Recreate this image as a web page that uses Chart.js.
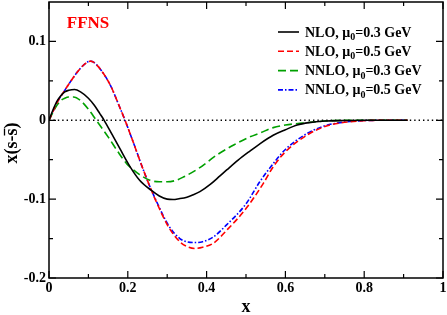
<!DOCTYPE html>
<html>
<head>
<meta charset="utf-8">
<script src="https://cdn.jsdelivr.net/npm/chart.js@4/dist/chart.umd.min.js"></script>
<style>
    html, body { margin: 0; padding: 0; background: #fff; }
</style>
</head>
<body>
<canvas id="chartStrange" width="447" height="315"></canvas>
<script>
// x(s - sbar) vs x, FFNS
const xNLO03 = [0, 0.01, 0.02, 0.03, 0.04, 0.05, 0.065, 0.08, 0.1, 0.115, 0.129, 0.14, 0.16, 0.18, 0.206, 0.23, 0.26, 0.28, 0.3, 0.315, 0.33, 0.35, 0.366, 0.383, 0.41, 0.434, 0.451, 0.48, 0.51, 0.536, 0.569, 0.6, 0.63, 0.66, 0.7, 0.75, 0.8, 0.85, 0.91];
const yNLO03 = [0, 0.013, 0.024, 0.031, 0.036, 0.038, 0.039, 0.036, 0.028, 0.019, 0.0085, 0, -0.018, -0.036, -0.059, -0.076, -0.089, -0.096, -0.1, -0.1005, -0.0995, -0.0975, -0.0945, -0.0905, -0.081, -0.0705, -0.063, -0.0505, -0.039, -0.0295, -0.019, -0.012, -0.006, -0.003, -0.001, -0.0003, 0, 0, 0];

const xNLO05 = [0, 0.01, 0.02, 0.04, 0.06, 0.08, 0.095, 0.105, 0.115, 0.13, 0.145, 0.16, 0.175, 0.193, 0.214, 0.235, 0.256, 0.273, 0.303, 0.332, 0.35, 0.37, 0.39, 0.417, 0.45, 0.5, 0.544, 0.569, 0.6, 0.654, 0.7, 0.739, 0.8, 0.85, 0.91];
const yNLO05 = [0, 0.011, 0.022, 0.038, 0.053, 0.066, 0.073, 0.075, 0.073, 0.065, 0.054, 0.04, 0.022, 0, -0.028, -0.057, -0.084, -0.104, -0.135, -0.154, -0.16, -0.1625, -0.161, -0.156, -0.14, -0.112, -0.08, -0.059, -0.04, -0.019, -0.008, -0.0034, -0.0005, 0, 0];

const xNNLO03 = [0, 0.01, 0.02, 0.03, 0.04, 0.05, 0.062, 0.08, 0.1, 0.12, 0.15, 0.175, 0.197, 0.21, 0.23, 0.256, 0.28, 0.3, 0.32, 0.341, 0.38, 0.426, 0.47, 0.51, 0.536, 0.569, 0.6, 0.654, 0.7, 0.75, 0.8, 0.91];
const yNNLO03 = [0, 0.01, 0.019, 0.025, 0.028, 0.0295, 0.0295, 0.025, 0.014, 0, -0.021, -0.04, -0.055, -0.061, -0.069, -0.076, -0.078, -0.078, -0.0765, -0.072, -0.061, -0.044, -0.031, -0.021, -0.016, -0.0093, -0.006, -0.003, -0.001, 0, 0, 0];

const xNNLO05 = [0, 0.01, 0.02, 0.04, 0.06, 0.08, 0.095, 0.105, 0.115, 0.13, 0.145, 0.16, 0.175, 0.193, 0.214, 0.235, 0.256, 0.273, 0.303, 0.332, 0.35, 0.37, 0.39, 0.417, 0.45, 0.5, 0.535, 0.569, 0.6, 0.654, 0.7, 0.739, 0.8, 0.85, 0.91];
const yNNLO05 = [0, 0.011, 0.022, 0.038, 0.053, 0.066, 0.073, 0.075, 0.073, 0.065, 0.054, 0.04, 0.022, 0, -0.028, -0.057, -0.084, -0.103, -0.133, -0.15, -0.154, -0.155, -0.154, -0.148, -0.133, -0.106, -0.078, -0.055, -0.037, -0.017, -0.007, -0.003, -0.0004, 0, 0];

const zeroLineX = [0, 1];
const zeroLineY = [0, 0];

const xMajor = [0, 0.2, 0.4, 0.6, 0.8, 1];
const xMinor = [0.1, 0.3, 0.5, 0.7, 0.9];
const yMajor = [-0.2, -0.1, 0, 0.1];
const yMinor = [-0.15, -0.05, 0.05];

const seriesLabels = ['NLO, μ|0|=0.3 GeV', 'NLO, μ|0|=0.5 GeV', 'NNLO, μ|0|=0.3 GeV', 'NNLO, μ|0|=0.5 GeV'];
const schemeLabel = 'FFNS';
const xTitle = 'x';
const yTitle = 'x(s-s)';

const SERIF = "'Liberation Serif', 'Times New Roman', serif";

function toPoints(xs, ys) {
    return xs.map((x, i) => ({ x: x, y: ys[i] }));
}

// frame, inward ticks, titles, legend
const decorPlugin = {
    id: 'decor',
    afterDatasetsDraw(chart) {
        const ctx = chart.ctx;
        const area = chart.chartArea;
        const sx = chart.scales.x;
        const sy = chart.scales.y;
        ctx.save();
        ctx.strokeStyle = '#000';
        ctx.lineWidth = 1.5;
        ctx.setLineDash([]);
        ctx.strokeRect(area.left, area.top, area.right - area.left, area.bottom - area.top);
        ctx.lineWidth = 1.2;
        ctx.beginPath();
        const xt = (vals, len) => {
            for (const v of vals) {
                const px = sx.getPixelForValue(v);
                ctx.moveTo(px, area.bottom); ctx.lineTo(px, area.bottom - len);
                ctx.moveTo(px, area.top); ctx.lineTo(px, area.top + len);
            }
        };
        const yt = (vals, len) => {
            for (const v of vals) {
                const py = sy.getPixelForValue(v);
                ctx.moveTo(area.left, py); ctx.lineTo(area.left + len, py);
                ctx.moveTo(area.right, py); ctx.lineTo(area.right - len, py);
            }
        };
        xt(xMajor, 7); xt(xMinor, 4);
        yt(yMajor, 7); yt(yMinor, 4);
        ctx.stroke();
        ctx.restore();
    },
    afterDraw(chart) {
        const ctx = chart.ctx;
        const area = chart.chartArea;
        ctx.save();
        ctx.fillStyle = '#000';

        // x title
        ctx.font = 'bold 18px ' + SERIF;
        ctx.textAlign = 'center';
        ctx.textBaseline = 'alphabetic';
        ctx.fillText(xTitle, (area.left + area.right) / 2, 312);

        // y title with bar over last s
        ctx.save();
        ctx.translate(17, 143);
        ctx.rotate(-Math.PI / 2);
        ctx.font = 'bold 18px ' + SERIF;
        ctx.textAlign = 'left';
        const w = ctx.measureText(yTitle).width;
        const start = -w / 2;
        ctx.fillText(yTitle, start, 0);
        const pre = ctx.measureText('x(s-').width;
        const sw = ctx.measureText('s').width;
        ctx.lineWidth = 1.3;
        ctx.beginPath();
        ctx.moveTo(start + pre, -12.5);
        ctx.lineTo(start + pre + sw, -12.5);
        ctx.stroke();
        ctx.restore();

        // scheme label
        ctx.font = 'bold 17px ' + SERIF;
        ctx.fillStyle = '#ff0000';
        ctx.textAlign = 'center';
        ctx.fillText(schemeLabel, 88, 28);

        // legend
        const sets = chart.data.datasets.slice(0, 4);
        sets.forEach((ds, i) => {
            const yRow = 32 + i * 19.3;
            ctx.save();
            ctx.strokeStyle = ds.borderColor;
            ctx.lineWidth = ds.borderWidth;
            ctx.setLineDash(ds.borderDash || []);
            ctx.beginPath();
            ctx.moveTo(278, yRow);
            ctx.lineTo(299, yRow);
            ctx.stroke();
            ctx.restore();
            const parts = seriesLabels[i].split('|');
            let tx = 305;
            const base = yRow + 4.5;
            ctx.fillStyle = '#000';
            ctx.textAlign = 'left';
            ctx.font = 'bold 14px ' + SERIF;
            ctx.fillText(parts[0], tx, base);
            tx += ctx.measureText(parts[0]).width;
            ctx.font = 'bold 10px ' + SERIF;
            ctx.fillText(parts[1], tx, base + 3.5);
            tx += ctx.measureText(parts[1]).width;
            ctx.font = 'bold 14px ' + SERIF;
            ctx.fillText(parts[2], tx, base);
        });
        ctx.restore();
    }
};

new Chart('chartStrange', {
    type: 'line',
    data: {
        datasets: [{
            label: seriesLabels[0],
            data: toPoints(xNLO03, yNLO03),
            borderColor: '#000000',
            borderWidth: 1.6,
            borderDash: []
        }, {
            label: seriesLabels[1],
            data: toPoints(xNLO05, yNLO05),
            borderColor: '#ff0000',
            borderWidth: 1.6,
            borderDash: [6, 3]
        }, {
            label: seriesLabels[2],
            data: toPoints(xNNLO03, yNNLO03),
            borderColor: '#00a000',
            borderWidth: 1.6,
            borderDash: [8, 4]
        }, {
            label: seriesLabels[3],
            data: toPoints(xNNLO05, yNNLO05),
            borderColor: '#0000ff',
            borderWidth: 1.6,
            borderDash: [5, 2, 1.5, 2]
        }, {
            label: 'zero',
            data: toPoints(zeroLineX, zeroLineY),
            borderColor: '#000000',
            borderWidth: 1.4,
            borderDash: [1.4, 3]
        }]
    },
    options: {
        responsive: false,
        devicePixelRatio: 1,
        animation: false,
        elements: { point: { radius: 0 }, line: { cubicInterpolationMode: 'monotone' } },
        layout: { padding: { top: 2, right: 4, left: 0, bottom: 0 } },
        plugins: {
            legend: { display: false },
            tooltip: { enabled: false }
        },
        scales: {
            x: {
                type: 'linear',
                min: 0,
                max: 1,
                grid: { display: false, drawTicks: false },
                border: { display: false },
                ticks: {
                    stepSize: 0.2,
                    includeBounds: false,
                    padding: 2,
                    color: '#000',
                    maxRotation: 0,
                    font: { family: SERIF, weight: 'bold', size: 14 },
                    callback: v => (v === 0 || v === 1) ? String(v) : v.toFixed(1)
                },
                afterFit: scale => {
                    scale.height = 37;
                    scale.paddingLeft = 0;
                    scale.paddingRight = 0;
                }
            },
            y: {
                min: -0.2,
                max: 0.15,
                grid: { display: false, drawTicks: false },
                border: { display: false },
                ticks: {
                    stepSize: 0.1,
                    includeBounds: false,
                    padding: 3,
                    color: '#000',
                    font: { family: SERIF, weight: 'bold', size: 14 },
                    callback: v => Math.abs(v) < 1e-9 ? '0' : v.toFixed(1)
                },
                afterFit: scale => {
                    scale.width = 49;
                    scale.paddingTop = 0;
                    scale.paddingBottom = 0;
                }
            }
        }
    },
    plugins: [decorPlugin]
});
</script>
</body>
</html>
